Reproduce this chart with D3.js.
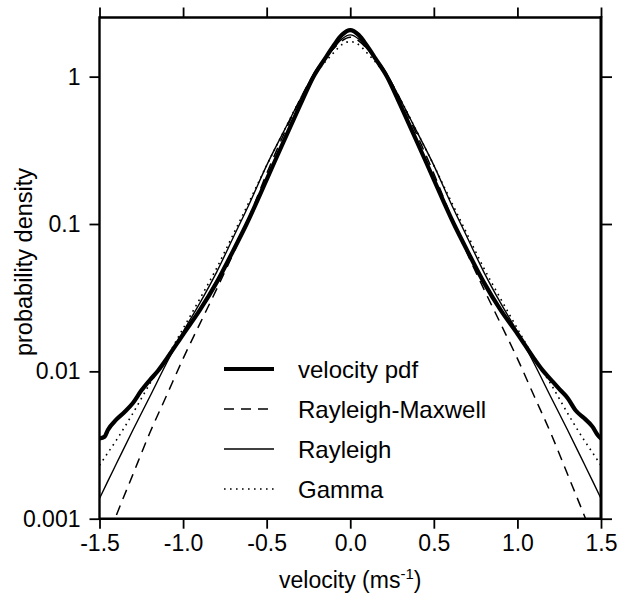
<!DOCTYPE html>
<html>
<head>
<meta charset="utf-8">
<script src="https://cdn.jsdelivr.net/npm/d3@7"></script>
<style>
  html, body { margin: 0; padding: 0; background: #fff; }
  svg { display: block; }
  text { font-family: "Liberation Sans", Arial, Helvetica, sans-serif; fill: #000; }
</style>
</head>
<body>
<svg id="chart" width="626" height="596"></svg>
<script>
// ---------- data ----------
const xTicks = [-1.5, -1.0, -0.5, 0.0, 0.5, 1.0, 1.5];
const yTicks = [1, 0.1, 0.01, 0.001];
const yTickLabels = ["1", "0.1", "0.01", "0.001"];

// measured velocity pdf (thick line)
const pdfV = [-1.5, -1.47, -1.45, -1.4, -1.35, -1.3, -1.25, -1.2, -1.15, -1.1, -1.0, -0.9, -0.8, -0.7, -0.62, -0.5, -0.4, -0.3, -0.22, -0.15, -0.1, -0.05, 0.0,
              0.05, 0.1, 0.15, 0.22, 0.3, 0.4, 0.5, 0.62, 0.7, 0.8, 0.9, 1.0, 1.1, 1.15, 1.2, 1.25, 1.3, 1.35, 1.4, 1.45, 1.48, 1.5];
const pdfP = [0.0035, 0.0036, 0.0040, 0.0047, 0.0053, 0.0061, 0.0074, 0.0087, 0.0101, 0.0121, 0.0178, 0.026, 0.040, 0.066, 0.100, 0.20, 0.36, 0.64, 1.00, 1.33, 1.62, 1.92, 2.07,
              1.92, 1.62, 1.33, 1.00, 0.64, 0.36, 0.20, 0.100, 0.066, 0.040, 0.026, 0.018, 0.0122, 0.0102, 0.0088, 0.0076, 0.0066, 0.0054, 0.0048, 0.0042, 0.0037, 0.0035];

// model curves, sampled on a common velocity grid
const modelV = [-1.5, -1.45, -1.4, -1.3, -1.2, -1.1, -1.0, -0.9, -0.8, -0.7, -0.6, -0.5, -0.4, -0.3, -0.2, -0.1, -0.05, 0.0,
                0.05, 0.1, 0.2, 0.3, 0.4, 0.5, 0.6, 0.7, 0.8, 0.9, 1.0, 1.1, 1.2, 1.3, 1.4, 1.45, 1.5];
const rayleighMaxwellP = [0.0005, 0.00075, 0.00105, 0.0020, 0.0038, 0.0068, 0.0122, 0.021, 0.036, 0.063, 0.115, 0.22, 0.40, 0.70, 1.12, 1.55, 1.75, 1.85,
                          1.75, 1.55, 1.12, 0.70, 0.40, 0.22, 0.115, 0.063, 0.036, 0.021, 0.0122, 0.0068, 0.0038, 0.0020, 0.00105, 0.00075, 0.0005];
const rayleighP = [0.00137, 0.0018, 0.00235, 0.0040, 0.0067, 0.0113, 0.0185, 0.029, 0.047, 0.081, 0.14, 0.25, 0.42, 0.70, 1.13, 1.55, 1.80, 1.92,
                   1.80, 1.55, 1.13, 0.70, 0.42, 0.25, 0.14, 0.081, 0.047, 0.029, 0.0185, 0.0113, 0.0067, 0.0040, 0.00235, 0.0018, 0.00137];
const gammaP = [0.0023, 0.0028, 0.0034, 0.0052, 0.0082, 0.0123, 0.0195, 0.031, 0.050, 0.085, 0.145, 0.25, 0.42, 0.70, 1.07, 1.45, 1.65, 1.73,
                1.65, 1.45, 1.07, 0.70, 0.42, 0.25, 0.145, 0.085, 0.050, 0.031, 0.0195, 0.0123, 0.0082, 0.0052, 0.0034, 0.0028, 0.0023];

const legendLabels = ["velocity pdf", "Rayleigh-Maxwell", "Rayleigh", "Gamma"];

// ---------- layout ----------
const L = 99.5, R = 601, T = 17.5, B = 518.7;
const svg = d3.select("#chart");

const x = d3.scaleLinear().domain([-1.5, 1.5]).range([L, R]);
const y = d3.scaleLog().domain([0.001, 2.52]).range([B, T]);

const styles = [
  { w: 4.2, dash: null, cap: "round" },
  { w: 1.5, dash: "10,7", cap: "butt" },
  { w: 1.4, dash: null, cap: "butt" },
  { w: 1.6, dash: "1.6,4.4", cap: "butt" }
];

// clip
svg.append("defs").append("clipPath").attr("id", "clip")
  .append("rect").attr("x", L).attr("y", T).attr("width", R - L).attr("height", B - T);

const line = d3.line().x(d => x(d[0])).y(d => y(d[1])).curve(d3.curveMonotoneX);

const series = [
  d3.zip(pdfV, pdfP),
  d3.zip(modelV, rayleighMaxwellP),
  d3.zip(modelV, rayleighP),
  d3.zip(modelV, gammaP)
];

const g = svg.append("g").attr("clip-path", "url(#clip)");
// draw models first, thick pdf on top
[1, 2, 3, 0].forEach(i => {
  g.append("path")
    .attr("d", line(series[i]))
    .attr("fill", "none")
    .attr("stroke", "#000")
    .attr("stroke-width", styles[i].w)
    .attr("stroke-linecap", styles[i].cap)
    .attr("stroke-linejoin", "round")
    .attr("stroke-dasharray", styles[i].dash);
});

// ---------- axes ----------
const fmtX = d => d.toFixed(1);
const xAxisB = d3.axisBottom(x).tickValues(xTicks).tickSize(10).tickSizeOuter(0).tickPadding(6).tickFormat(fmtX);
const xAxisT = d3.axisTop(x).tickValues(xTicks).tickSize(10).tickSizeOuter(0).tickFormat("");
const yAxisL = d3.axisLeft(y).tickValues(yTicks).tickSize(10).tickSizeOuter(0).tickPadding(9)
  .tickFormat((d, i) => yTickLabels[i]);
const yAxisR = d3.axisRight(y).tickValues(yTicks).tickSize(11).tickSizeOuter(0).tickFormat("");

function styleAxis(sel, fs) {
  sel.select(".domain").remove();
  sel.selectAll(".tick line").attr("stroke", "#000").attr("stroke-width", 1.8);
  sel.selectAll(".tick text").attr("font-size", fs).attr("fill", "#000")
    .attr("font-family", "'Liberation Sans', Arial, sans-serif");
}

svg.append("g").attr("transform", `translate(0,${B})`).call(xAxisB).call(s => styleAxis(s, 23));
svg.append("g").attr("transform", `translate(0,${T})`).call(xAxisT).call(s => styleAxis(s, 23));
svg.append("g").attr("transform", `translate(${L},0)`).call(yAxisL).call(s => styleAxis(s, 23));
svg.append("g").attr("transform", `translate(${R},0)`).call(yAxisR).call(s => styleAxis(s, 23));

// frame
svg.append("line").attr("x1", L).attr("x2", R).attr("y1", T).attr("y2", T).attr("stroke", "#000").attr("stroke-width", 2.4);
svg.append("line").attr("x1", L).attr("x2", R).attr("y1", B).attr("y2", B).attr("stroke", "#000").attr("stroke-width", 2.4);
svg.append("line").attr("x1", L).attr("x2", L).attr("y1", T - 1.2).attr("y2", B + 1.2).attr("stroke", "#000").attr("stroke-width", 2.4);
svg.append("line").attr("x1", R).attr("x2", R).attr("y1", T - 1.2).attr("y2", B + 1.2).attr("stroke", "#000").attr("stroke-width", 3);

// ---------- axis titles ----------
const xt = svg.append("text").attr("x", (L + R) / 2).attr("y", 588).attr("text-anchor", "middle").attr("font-size", 23);
xt.append("tspan").text("velocity (ms");
xt.append("tspan").attr("font-size", 15).attr("dy", -9).text("-1");
xt.append("tspan").attr("dy", 9).text(")");

svg.append("text")
  .attr("transform", `translate(32,262) rotate(-90)`)
  .attr("text-anchor", "middle")
  .attr("font-size", 23.5)
  .text("probability density");

// ---------- legend ----------
const legX0 = 224, legX1 = 274, legTextX = 298, legY0 = 369, legDy = 40;
legendLabels.forEach((lab, i) => {
  const yy = legY0 + i * legDy;
  svg.append("line")
    .attr("x1", legX0).attr("x2", legX1).attr("y1", yy).attr("y2", yy)
    .attr("stroke", "#000").attr("stroke-width", styles[i].w)
    .attr("stroke-dasharray", styles[i].dash);
  svg.append("text").attr("x", legTextX).attr("y", yy).attr("dy", "0.36em")
    .attr("font-size", 24).text(lab);
});
</script>
</body>
</html>
